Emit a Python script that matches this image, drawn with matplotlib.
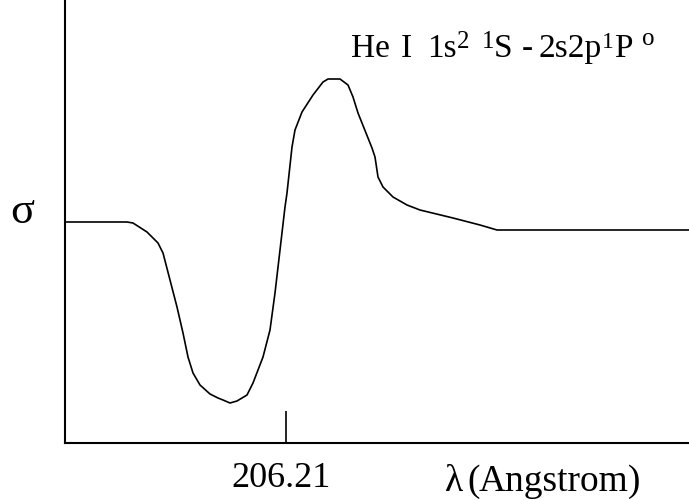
import numpy as np
import matplotlib.pyplot as plt
from matplotlib.transforms import ScaledTranslation

plt.rcParams['font.family'] = 'Liberation Serif'

# curve (arbitrary units, screen-like)
lam = [65, 100, 127, 133, 147, 158, 163, 170, 177, 183, 188, 193, 200, 210, 218,
       223, 230, 237, 247, 253, 263, 270, 275, 280, 285, 287, 292, 295, 302, 313,
       323, 328, 340, 348, 353, 358, 372, 375, 378, 383, 393, 407, 420, 453, 480,
       497, 570, 689]
sigma = [222, 222, 222, 223, 232, 243, 253, 280, 307, 333, 357, 373, 385, 394, 398,
         400, 403, 401, 395, 383, 357, 330, 293, 250, 207, 193, 147, 130, 112, 95,
         82, 79, 79, 85, 97, 113, 148, 157, 177, 187, 197, 205, 210, 218, 225,
         230, 230, 230]
sigma = [500 - s for s in sigma]
tick_pos = [286]
tick_labels = ['206.21']

fig = plt.figure(figsize=(6.89, 5), dpi=100)
ax = fig.add_axes([65 / 689, 57 / 500, 624 / 689, 443 / 500])
ax.plot(lam, sigma, color='black', lw=1.2)
ax.set_xlim(65, 689)
ax.set_ylim(57, 500)
for s in ['top', 'right']:
    ax.spines[s].set_visible(False)
for s in ['left', 'bottom']:
    ax.spines[s].set_linewidth(1.5)
ax.set_yticks([])
ax.set_xticks(tick_pos)
ax.set_xticklabels(tick_labels, fontsize=26)
ax.tick_params(axis='x', direction='in', length=23, width=1.2, pad=13.5)
for lab in ax.get_xticklabels():
    lab.set_transform(lab.get_transform() + ScaledTranslation(-0.05, 0, fig.dpi_scale_trans))


def put(px, py, s, size):
    fig.text(px / 689, 1 - py / 500, s, fontsize=size, ha='left', va='baseline')


# axis label
put(445, 491, 'λ', 27)
put(467, 491, '(', 27)
put(479, 491, 'Angstrom)', 27)
fig.text(22 / 689, 1 - 212 / 500, 'σ', fontsize=32, ha='center', va='center')

# title: He I 1s2 1S - 2s2p 1Po
put(351, 57, 'He', 24)
put(401, 57, 'I', 24)
put(427, 57, '1s', 24)
put(457, 48, '2', 18)
put(482, 48, '1', 18)
put(494, 57, 'S', 24)
put(522, 57, '-', 24)
put(538, 57, '2s2p', 24)
put(602, 48, '1', 17)
put(614, 57, 'P', 24)
put(642, 45, 'o', 18)

fig.savefig('out.png', dpi=100)
